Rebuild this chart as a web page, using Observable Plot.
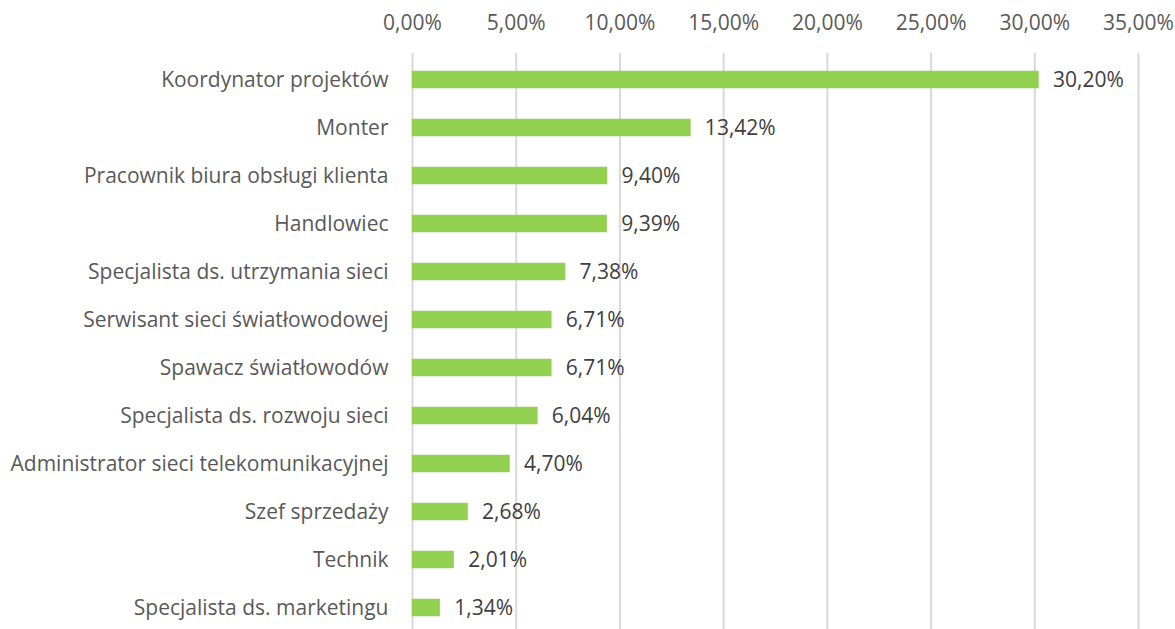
<!DOCTYPE html>
<html>
<head>
<meta charset="utf-8">
<script src="https://cdn.jsdelivr.net/npm/d3@7"></script>
<script src="https://cdn.jsdelivr.net/npm/@observablehq/plot@0.6"></script>
<style>
html, body { margin: 0; padding: 0; background: #fff; overflow: hidden; }
</style>
</head>
<body>
<div id="chart"></div>
<script>
const categories = [
  "Koordynator projektów",
  "Monter",
  "Pracownik biura obsługi klienta",
  "Handlowiec",
  "Specjalista ds. utrzymania sieci",
  "Serwisant sieci światłowodowej",
  "Spawacz światłowodów",
  "Specjalista ds. rozwoju sieci",
  "Administrator sieci telekomunikacyjnej",
  "Szef sprzedaży",
  "Technik",
  "Specjalista ds. marketingu"
];
const values = [30.20, 13.42, 9.40, 9.39, 7.38, 6.71, 6.71, 6.04, 4.70, 2.68, 2.01, 1.34];
const xTicks = [0, 5, 10, 15, 20, 25, 30, 35];

const data = categories.map((c, i) => ({category: c, value: values[i]}));
const fmt = v => v.toFixed(2).replace(".", ",") + "%";

const chart = Plot.plot({
  width: 1175,
  height: 634,
  marginTop: 53,
  marginBottom: 0,
  marginLeft: 412,
  marginRight: 37,
  style: {fontFamily: "'Open Sans', sans-serif", fontSize: "21px", color: "#595959", background: "#fff"},
  x: {domain: [0, 35]},
  y: {domain: categories, paddingInner: 0.65, paddingOuter: 0.3},
  marks: [
    Plot.gridX(xTicks, {stroke: "#d9d9d9", strokeOpacity: 1, strokeWidth: 2}),
    Plot.axisX(xTicks, {anchor: "top", tickSize: 0, tickPadding: 24, tickFormat: fmt, fill: "#595959", fontSize: 21, label: null}),
    Plot.axisY({tickSize: 0, tickPadding: 24, fill: "#595959", fontSize: 21, label: null}),
    Plot.barX(data, {x: "value", y: "category", fill: "#92D050", stroke: "#9ACD5A", strokeWidth: 0.5}),
    Plot.text(data, {x: "value", y: "category", text: d => fmt(d.value), textAnchor: "start", dx: 14, fill: "#404040", fontSize: 21})
  ]
});
document.getElementById("chart").appendChild(chart);
</script>
</body>
</html>
